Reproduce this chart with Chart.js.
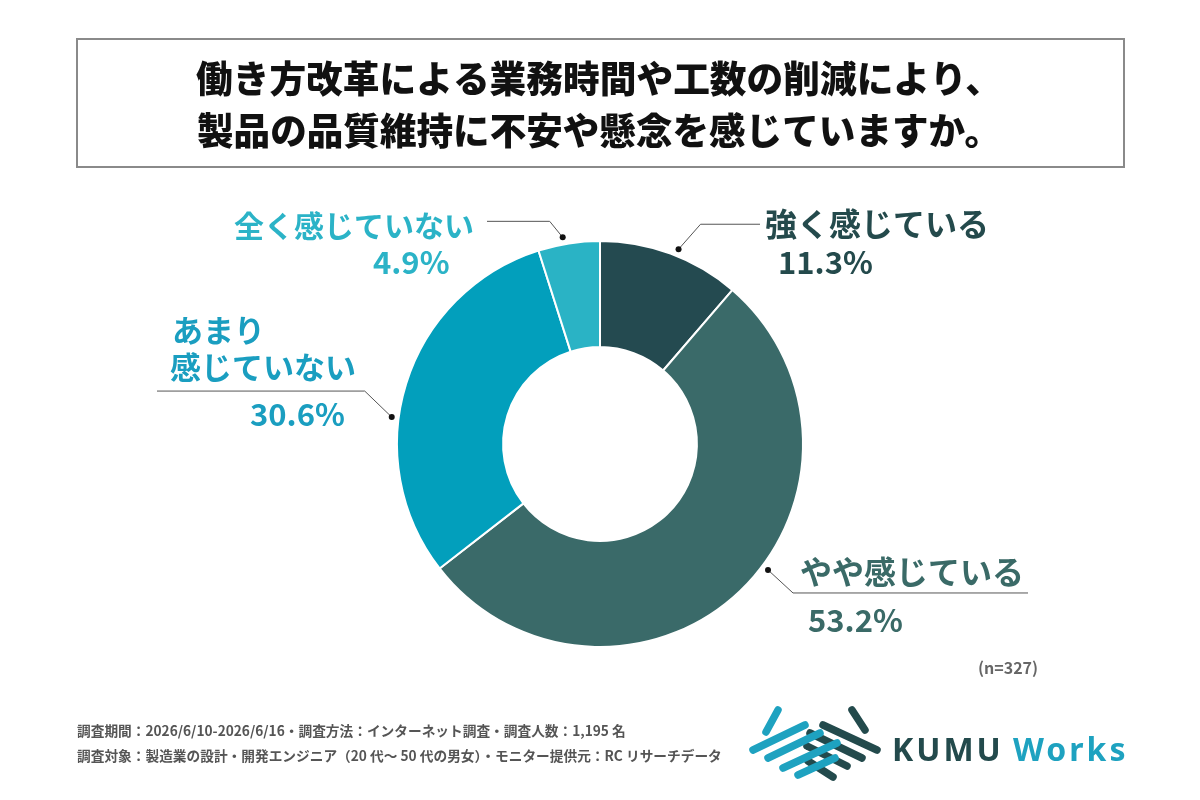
<!DOCTYPE html>
<html>
<head>
<meta charset="utf-8">
<script src="https://cdn.jsdelivr.net/npm/chart.js@4.4.0/dist/chart.umd.min.js"></script>
<style>
  html, body { margin: 0; padding: 0; background: #ffffff; }
  #wrap { width: 1200px; height: 800px; position: relative; }
</style>
</head>
<body>
<div id="wrap"><canvas id="c" width="1200" height="800"></canvas></div>
<script>
// ---- data ----
const titleLines = ['働き方改革による業務時間や工数の削減により、', '製品の品質維持に不安や懸念を感じていますか。'];
const categories = ['強く感じている', 'やや感じている', 'あまり感じていない', '全く感じていない'];
const labelLines = [['強く感じている'], ['やや感じている'], ['あまり', '感じていない'], ['全く感じていない']];
const values = [11.3, 53.2, 30.6, 4.9];
const sampleNote = '(n=327)';
const footerLines = [
  '調査期間：2026/6/10-2026/6/16・調査方法：インターネット調査・調査人数：1,195 名',
  '調査対象：製造業の設計・開発エンジニア（20 代～ 50 代の男女）・モニター提供元：RC リサーチデータ'
];

// ---- styles ----
const sliceColors = ['#244a50', '#3a6a69', '#029fbc', '#2ab3c5'];
const textColors = ['#244a4c', '#3a6a67', '#1a9ec0', '#2bb3c7'];
const JP = '"Noto Sans CJK JP", "Noto Sans", sans-serif';

// label layout (per slice): fraction within arc for the dot, elbow offset, line end x, text positions
const labelLayout = [
  { frac: 0.54, elbow: [22, -25], endX: 760, size: 32, lines: [[765, 224]], pct: [778, 262] },
  { frac: 0.45, elbow: [25, 23], endX: 1028, size: 32, lines: [[800, 572]], pct: [808, 620] },
  { frac: 0.41, elbow: [-27, -26], endX: 157, size: 31, lines: [[172, 330], [170, 367]], pct: [250, 414] },
  { frac: 0.42, elbow: [-13, -16], endX: 487, size: 30, lines: [[234, 226]], pct: [373, 262] }
];

function drawFitted(ctx, text, cx, cy, width, font) {
  ctx.save();
  ctx.font = font;
  const w = ctx.measureText(text).width;
  const sx = width / w;
  ctx.translate(cx, cy);
  ctx.scale(sx, 1);
  ctx.textAlign = 'center';
  ctx.textBaseline = 'middle';
  ctx.fillText(text, 0, 0);
  ctx.restore();
}

const decorPlugin = {
  id: 'decor',
  beforeDraw(chart) {
    const ctx = chart.ctx;
    ctx.save();
    ctx.fillStyle = '#ffffff';
    ctx.fillRect(0, 0, chart.width, chart.height);
    // title box
    ctx.strokeStyle = '#8a8a8a';
    ctx.lineWidth = 2;
    ctx.strokeRect(77, 39, 1047, 128);
    ctx.fillStyle = '#111111';
    drawFitted(ctx, titleLines[0], 599, 79, 806, '900 37px ' + JP);
    drawFitted(ctx, titleLines[1], 599, 131, 804, '900 37px ' + JP);
    ctx.restore();
  },
  afterDraw(chart) {
    const ctx = chart.ctx;
    const meta = chart.getDatasetMeta(0);
    ctx.save();
    meta.data.forEach((arc, i) => {
      const L = labelLayout[i];
      const a = arc.startAngle + (arc.endAngle - arc.startAngle) * L.frac;
      const r = arc.outerRadius + 7;
      const dx = arc.x + Math.cos(a) * r;
      const dy = arc.y + Math.sin(a) * r;
      const ex = dx + L.elbow[0], ey = dy + L.elbow[1];
      ctx.strokeStyle = '#555555';
      ctx.lineWidth = 1;
      ctx.beginPath();
      ctx.moveTo(dx, dy);
      ctx.lineTo(ex, ey);
      ctx.lineTo(L.endX, ey);
      ctx.stroke();
      ctx.fillStyle = '#111111';
      ctx.beginPath();
      ctx.arc(dx, dy, 3, 0, Math.PI * 2);
      ctx.fill();
      // texts
      ctx.fillStyle = textColors[i];
      ctx.textAlign = 'left';
      ctx.textBaseline = 'middle';
      ctx.font = '700 ' + L.size + 'px ' + JP;
      labelLines[i].forEach((t, k) => {
        ctx.fillText(t, L.lines[k][0], L.lines[k][1]);
      });
      ctx.font = '700 31px ' + JP;
      ctx.fillText(values[i].toFixed(1) + '%', L.pct[0], L.pct[1]);
    });
    // n note
    ctx.fillStyle = '#666666';
    ctx.font = '700 16px ' + JP;
    ctx.textAlign = 'left';
    ctx.fillText(sampleNote, 978, 668);
    // footer
    ctx.fillStyle = '#555555';
    ctx.font = '700 13.7px ' + JP;
    ctx.fillText(footerLines[0], 77, 731);
    ctx.fillText(footerLines[1], 77, 756);
    // logo icon
    const cyan = '#1ea2c0', dark = '#234a4c';
    const strokes = [
      [dark, 852, 710, 865, 730],
      [dark, 823, 725, 877, 750],
      [dark, 810, 733, 862, 758],
      [dark, 807, 746, 847, 766],
      [dark, 808, 761, 833, 777],
      [cyan, 766, 732, 778, 710],
      [cyan, 753, 750, 805, 725],
      [cyan, 768, 758, 820, 733],
      [cyan, 783, 768, 837, 743],
      [cyan, 798, 775, 835, 758]
    ];
    ctx.lineCap = 'round';
    ctx.lineWidth = 7.5;
    strokes.forEach(s => {
      ctx.strokeStyle = s[0];
      ctx.beginPath();
      ctx.moveTo(s[1], s[2]);
      ctx.lineTo(s[3], s[4]);
      ctx.stroke();
    });
    ctx.font = '700 32px "Noto Sans", "DejaVu Sans", sans-serif';
    ctx.textBaseline = 'middle';
    ctx.letterSpacing = '3px';
    ctx.fillStyle = dark;
    ctx.fillText('KUMU', 892, 752);
    ctx.fillStyle = cyan;
    ctx.letterSpacing = '3px';
    ctx.fillText('Works', 1013, 752);
    ctx.restore();
  }
};

new Chart(document.getElementById('c'), {
  type: 'doughnut',
  data: {
    labels: categories,
    datasets: [{
      data: values,
      backgroundColor: sliceColors,
      borderColor: '#ffffff',
      borderWidth: 2,
      hoverOffset: 0
    }]
  },
  options: {
    responsive: false,
    devicePixelRatio: 1,
    animation: false,
    radius: 203,
    cutout: 95,
    rotation: 0,
    layout: { padding: { top: 244, bottom: 156, left: 200, right: 200 } },
    plugins: { legend: { display: false }, tooltip: { enabled: false } }
  },
  plugins: [decorPlugin]
});
</script>
</body>
</html>
